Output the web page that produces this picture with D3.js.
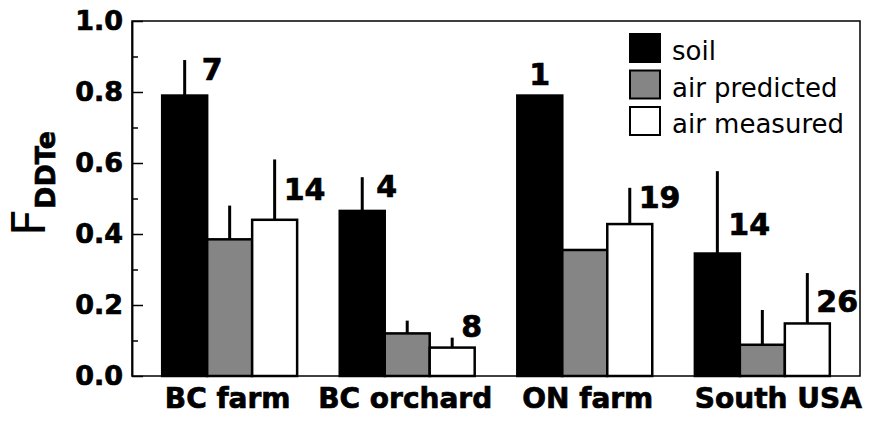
<!DOCTYPE html>
<html>
<head>
<meta charset="utf-8">
<script src="https://cdn.jsdelivr.net/npm/d3@7"></script>
<style>
    body { margin: 0; background: #fff; }
    text { font-family: "DejaVu Sans", sans-serif; fill: #000; }
    .heavy { font-weight: bold; stroke: #000; stroke-width: 0.7px; }
</style>
</head>
<body>
<svg id="chart" width="876" height="421"></svg>
<script>
// data
const categories = ["BC farm", "BC orchard", "ON farm", "South USA"];
const seriesNames = ["soil", "air predicted", "air measured"];
const soil = [0.79, 0.465, 0.79, 0.345];
const soilErr = [0.10, 0.095, null, 0.232];
const airPredicted = [0.385, 0.12, 0.355, 0.088];
const airPredictedErr = [0.095, 0.036, null, 0.098];
const airMeasured = [0.44, 0.08, 0.428, 0.148];
const airMeasuredErr = [0.17, 0.028, 0.102, 0.142];
const soilN = ["7", "4", "1", "14"];
const airMeasuredN = ["14", "8", "19", "26"];
const yTicks = [0, 0.2, 0.4, 0.6, 0.8, 1.0];
const yMinorTicks = [0.1, 0.3, 0.5, 0.7, 0.9];

const fills = ["#000", "#858585", "#fff"];

// where the n labels sit (manual placement like the original)
const soilLabelDx = [17, 14, 0, 11];
const soilLabelAt = [0.833, 0.504, 0.82, 0.397];
const measLabelAt = [0.496, 0.11, 0.473, 0.18];
const catLabelDx = [-2, -2, 3, 16];

const svg = d3.select("#chart");
const pad = {left: 132, right: 860, top: 21, bottom: 376};

const x = d3.scaleBand()
    .domain(categories)
    .range([pad.left, pad.right])
    .paddingInner(0.24)
    .paddingOuter(0.17);

const xs = d3.scaleBand()
    .domain(seriesNames)
    .range([0, x.bandwidth()]);

const y = d3.scaleLinear()
    .domain([0, 1])
    .range([pad.bottom, pad.top]);

const values = [soil, airPredicted, airMeasured];
const errs = [soilErr, airPredictedErr, airMeasuredErr];

let bars = [];
categories.forEach((c, i) => {
    seriesNames.forEach((s, j) => {
        bars.push({cat: c, series: s, idx: j, value: values[j][i], err: errs[j][i]});
    });
});

// frame
svg.append("rect")
    .attr("x", pad.left).attr("y", pad.top)
    .attr("width", pad.right - pad.left).attr("height", pad.bottom - pad.top)
    .attr("fill", "none").attr("stroke", "#000").attr("stroke-width", 1.5);

// error bars (upper only)
svg.append("g").selectAll("line")
    .data(bars.filter(d => d.err != null))
    .enter().append("line")
    .attr("x1", d => x(d.cat) + xs(d.series) + xs.bandwidth() / 2)
    .attr("x2", d => x(d.cat) + xs(d.series) + xs.bandwidth() / 2)
    .attr("y1", d => y(d.value))
    .attr("y2", d => y(d.value + d.err))
    .attr("stroke", "#000").attr("stroke-width", 3);

// bars
svg.append("g").selectAll("rect")
    .data(bars)
    .enter().append("rect")
    .attr("x", d => x(d.cat) + xs(d.series))
    .attr("y", d => y(d.value))
    .attr("width", xs.bandwidth())
    .attr("height", d => y(0) - y(d.value))
    .attr("fill", d => fills[d.idx])
    .attr("stroke", "#000").attr("stroke-width", 2.5);

// y axis, ticks point inward
const yAxis = svg.append("g")
    .attr("transform", `translate(${pad.left},0)`)
    .call(d3.axisLeft(y).tickValues(yTicks).tickSizeInner(-11).tickSizeOuter(0)
        .tickPadding(9).tickFormat(d3.format(".1f")));
svg.append("g")
    .attr("transform", `translate(${pad.left},0)`)
    .call(d3.axisLeft(y).tickValues(yMinorTicks).tickSizeInner(-6).tickSizeOuter(0)
        .tickFormat(""));
svg.selectAll(".domain").attr("stroke-width", 1.5);
svg.selectAll(".tick line").attr("stroke-width", 1.5);
yAxis.selectAll("text")
    .attr("class", "heavy")
    .attr("fill", "#000")
    .style("font-family", "DejaVu Sans")
    .style("font-size", "27px");

// y axis title
const yTitle = svg.append("text")
    .attr("transform", "translate(45,236) rotate(-90)");
yTitle.append("tspan").text("F").style("font-size", "47px");
yTitle.append("tspan").text("DDTe").attr("dy", 10).attr("class", "heavy")
    .style("font-size", "27px");

// category labels
svg.append("g").selectAll("text")
    .data(categories)
    .enter().append("text")
    .attr("class", "heavy")
    .attr("x", (d, i) => x(d) + x.bandwidth() / 2 + catLabelDx[i])
    .attr("y", 408)
    .attr("text-anchor", "middle")
    .style("font-size", "28px")
    .text(d => d);

// sample size labels
const cx = (c, s) => x(c) + xs(s) + xs.bandwidth() / 2;
svg.append("g").selectAll("text")
    .data(categories)
    .enter().append("text")
    .attr("class", "heavy")
    .attr("x", (d, i) => cx(d, "soil") + soilLabelDx[i])
    .attr("y", (d, i) => y(soilLabelAt[i]))
    .attr("text-anchor", (d, i) => soilErr[i] == null ? "middle" : "start")
    .style("font-size", "30px")
    .text((d, i) => soilN[i]);
svg.append("g").selectAll("text")
    .data(categories)
    .enter().append("text")
    .attr("class", "heavy")
    .attr("x", d => cx(d, "air measured") + 9)
    .attr("y", (d, i) => y(measLabelAt[i]))
    .style("font-size", "30px")
    .text((d, i) => airMeasuredN[i]);

// legend
const legend = svg.append("g").attr("transform", "translate(630,34)");
const items = legend.selectAll("g")
    .data(seriesNames)
    .enter().append("g")
    .attr("transform", (d, i) => `translate(0,${i * 36.5})`);
items.append("rect")
    .attr("width", 30).attr("height", 28)
    .attr("fill", (d, i) => fills[i])
    .attr("stroke", "#000").attr("stroke-width", 2);
items.append("text")
    .attr("x", 42).attr("y", 26)
    .style("font-size", "26px")
    .text(d => d);
</script>
</body>
</html>
